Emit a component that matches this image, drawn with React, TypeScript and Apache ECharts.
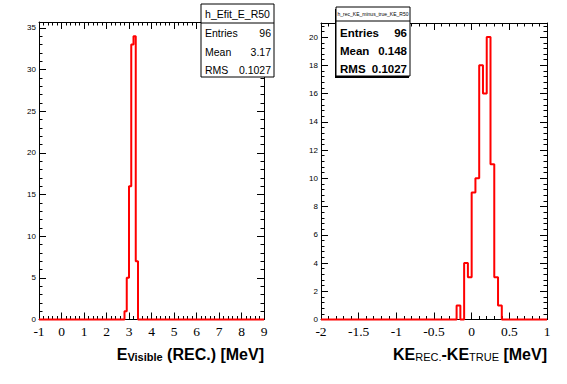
import React, { useEffect, useRef } from "react";
import * as echarts from "echarts";

// ---- Data ----
const leftRange = [-1, 9];
const leftFirstEdge = 2.8;
const leftBinWidth = 0.1;
const leftCounts = [1, 5, 16, 33, 34, 7];
const leftYMax = 35.7;

const rightRange = [-2, 1];
const rightFirstEdge = -0.2;
const rightBinWidth = 0.05;
const rightCounts = [1, 0, 4, 3, 9, 10, 18, 16, 20, 11, 3, 1];
const rightYMax = 21;

const leftStats = [
  ["Entries", "96"],
  ["Mean", "3.17"],
  ["RMS", "0.1027"],
];
const rightStats = [
  ["Entries", "96"],
  ["Mean", "0.148"],
  ["RMS", "0.1027"],
];
const leftTitle = "h_Efit_E_R50";
const rightTitle = "h_rec_KE_minus_true_KE_R50";

function stepPoints(range: number[], first: number, w: number, counts: number[]) {
  const pts: number[][] = [[range[0], 0]];
  let prev = 0;
  counts.forEach((c, i) => {
    const x0 = +(first + i * w).toFixed(6);
    pts.push([x0, prev]);
    pts.push([x0, c]);
    prev = c;
  });
  const xe = +(first + counts.length * w).toFixed(6);
  pts.push([xe, prev]);
  pts.push([xe, 0]);
  pts.push([range[1], 0]);
  return pts;
}

const SANS = "'Liberation Sans', Arial, Helvetica, sans-serif";
const SERIF = "'Liberation Serif', 'Times New Roman', serif";
const ZTOP = 100;

function xAx(grid: number, pos: "bottom" | "top", min: number, max: number, interval: number, labels: boolean) {
  return {
    type: "value",
    gridIndex: grid,
    position: pos,
    min,
    max,
    interval,
    z: 0,
    axisLine: { show: true, onZero: false, lineStyle: { color: "#000", width: 1 } },
    axisTick: { show: true, inside: true, length: 7, lineStyle: { color: "#000" } },
    minorTick: { show: true, splitNumber: 5, length: 3.5, lineStyle: { color: "#000" } },
    splitLine: { show: false },
    minorSplitLine: { show: false },
    axisLabel: {
      show: labels,
      color: "#000",
      fontFamily: SERIF,
      fontSize: 13.5,
      margin: 5,
      showMinLabel: true,
      showMaxLabel: true,
    },
  };
}

function yAx(grid: number, pos: "left" | "right", max: number, interval: number, labels: boolean) {
  return {
    type: "value",
    gridIndex: grid,
    position: pos,
    min: 0,
    max,
    interval,
    z: 0,
    axisLine: { show: true, onZero: false, lineStyle: { color: "#000", width: 1 } },
    axisTick: { show: true, inside: true, length: 7, lineStyle: { color: "#000" } },
    minorTick: { show: true, splitNumber: 5, length: 3.5, lineStyle: { color: "#000" } },
    splitLine: { show: false },
    minorSplitLine: { show: false },
    axisLabel: {
      show: labels,
      color: "#000",
      fontFamily: SANS,
      fontSize: 8,
      margin: 3,
      showMaxLabel: false,
    },
  };
}

function statsBox(
  x: number,
  y: number,
  w: number,
  h: number,
  titleY: number,
  title: string,
  titleSize: number,
  rows: string[][],
  rowYs: number[],
  fontSize: number,
  bold: boolean,
  shadow: boolean
) {
  const els: any[] = [];
  if (shadow) {
    els.push({
      type: "rect",
      z: ZTOP,
      shape: { x: x - 1, y: y + 2, width: w, height: h },
      style: { fill: "#000" },
    });
  }
  els.push({
    type: "rect",
    z: ZTOP + 1,
    shape: { x, y, width: w, height: h },
    style: { fill: "#fff", stroke: "#000", lineWidth: 1 },
  });
  els.push({
    type: "line",
    z: ZTOP + 2,
    shape: { x1: x, y1: titleY, x2: x + w, y2: titleY },
    style: { stroke: "#000", lineWidth: 1 },
  });
  els.push({
    type: "text",
    z: ZTOP + 2,
    x: x + w / 2,
    y: (y + titleY) / 2,
    style: {
      text: title,
      fontFamily: SANS,
      fontSize: titleSize,
      fill: "#000",
      align: "center",
      verticalAlign: "middle",
    },
  });
  rows.forEach((r, i) => {
    els.push({
      type: "text",
      z: ZTOP + 2,
      x: x + 4,
      y: rowYs[i],
      style: {
        text: r[0],
        fontFamily: SANS,
        fontSize,
        fontWeight: bold ? "bold" : "normal",
        fill: "#000",
        align: "left",
        verticalAlign: "middle",
      },
    });
    els.push({
      type: "text",
      z: ZTOP + 2,
      x: x + w - 3,
      y: rowYs[i],
      style: {
        text: r[1],
        fontFamily: SANS,
        fontSize,
        fontWeight: bold ? "bold" : "normal",
        fill: "#000",
        align: "right",
        verticalAlign: "middle",
      },
    });
  });
  return els;
}

export default function App() {
  const ref = useRef<HTMLDivElement>(null);
  useEffect(() => {
    document.body.style.margin = "0";
    const chart = echarts.init(ref.current!, undefined, { renderer: "svg" });
    const big = { fontFamily: SANS, fontSize: 16, fontWeight: "bold", color: "#000", lineHeight: 18, verticalAlign: "bottom" };
    const sub = { fontFamily: SANS, fontSize: 11, fontWeight: "normal", color: "#000", lineHeight: 10, verticalAlign: "bottom" };
    const subB = { ...sub, fontWeight: "bold" };
    chart.setOption({
      animation: false,
      backgroundColor: "#fff",
      grid: [
        { left: 39, top: 22, width: 225, height: 297.5 },
        { left: 321, top: 23, width: 226, height: 296.5 },
      ],
      xAxis: [
        xAx(0, "bottom", leftRange[0], leftRange[1], 1, true),
        xAx(0, "top", leftRange[0], leftRange[1], 1, false),
        xAx(1, "bottom", rightRange[0], rightRange[1], 0.5, true),
        xAx(1, "top", rightRange[0], rightRange[1], 0.5, false),
      ],
      yAxis: [
        yAx(0, "left", leftYMax, 5, true),
        yAx(0, "right", leftYMax, 5, false),
        yAx(1, "left", rightYMax, 2, true),
        yAx(1, "right", rightYMax, 2, false),
      ],
      series: [
        {
          type: "line",
          xAxisIndex: 0,
          yAxisIndex: 0,
          data: stepPoints(leftRange, leftFirstEdge, leftBinWidth, leftCounts),
          showSymbol: false,
          clip: false,
          lineStyle: { color: "#ff0000", width: 2 },
          z: 5,
        },
        {
          type: "line",
          xAxisIndex: 2,
          yAxisIndex: 2,
          data: stepPoints(rightRange, rightFirstEdge, rightBinWidth, rightCounts),
          showSymbol: false,
          clip: false,
          lineStyle: { color: "#ff0000", width: 2 },
          z: 5,
        },
      ],
      graphic: [
        ...statsBox(201, 4, 73, 73, 23, leftTitle, 10.5, leftStats, [33, 51.5, 69.5], 10.5, false, false),
        ...statsBox(336, 7, 74, 69, 21, rightTitle, 5, rightStats, [32.5, 50.5, 69], 11.5, true, true),
        {
          type: "text",
          z: ZTOP,
          x: 264,
          y: 362,
          style: {
            text: "{a|E}{s|Visible}{a| (REC.) [MeV]}",
            align: "right",
            verticalAlign: "bottom",
            rich: { a: big, s: subB },
          },
        },
        {
          type: "text",
          z: ZTOP,
          x: 547,
          y: 362,
          style: {
            text: "{a|KE}{s|REC.}{a|-KE}{s|TRUE}{a| [MeV]}",
            align: "right",
            verticalAlign: "bottom",
            rich: { a: big, s: sub },
          },
        },
      ],
    });
    return () => chart.dispose();
  }, []);
  return <div ref={ref} style={{ position: "fixed", left: 0, top: 0, width: 567, height: 384 }} />;
}
